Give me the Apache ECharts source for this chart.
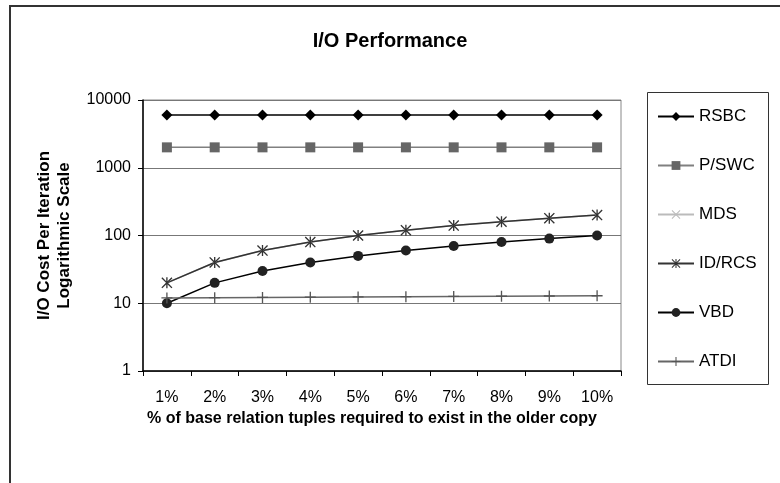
<!DOCTYPE html>
<html><head><meta charset="utf-8">
<script src="https://cdn.jsdelivr.net/npm/echarts@6/dist/echarts.min.js"></script>
<style>html,body{margin:0;padding:0;background:#fff}#c{width:780px;height:483px}</style>
</head><body><div id="c"></div>
<script>
const categories = ['1%','2%','3%','4%','5%','6%','7%','8%','9%','10%'];
const rsbc  = [6000,6000,6000,6000,6000,6000,6000,6000,6000,6000];
const pswc  = [2000,2000,2000,2000,2000,2000,2000,2000,2000,2000];
const mds   = [20,40,60,80,100,120,140,160,180,200];
const idrcs = [20,40,60,80,100,120,140,160,180,200];
const vbd   = [10,20,30,40,50,60,70,80,90,100];
const atdi  = [12,12.1,12.2,12.3,12.4,12.5,12.6,12.7,12.8,12.9];
const yTicks = [1,10,100,1000,10000];

const F = '"Liberation Sans", Arial, sans-serif';
const plusPath = 'path://M4.4,0h1.2v10h-1.2z M0,4.4h10v1.2h-10z';
const xPath = 'path://M0.8,0L5,4.2L9.2,0L10,0.8L5.8,5L10,9.2L9.2,10L5,5.8L0.8,10L0,9.2L4.2,5L0,0.8z';
const starPath = 'path://M0.8,0L5,4.2L9.2,0L10,0.8L5.8,5L10,9.2L9.2,10L5,5.8L0.8,10L0,9.2L4.2,5L0,0.8z M4.4,0h1.2v10h-1.2z';

function mk(name, data, lineColor, symbol, symColor, size) {
  return {
    name, type: 'line', data, symbol, symbolSize: size,
    showAllSymbol: true,
    lineStyle: {color: lineColor, width: 1.5},
    itemStyle: {color: symColor},
    emphasis: {disabled: true},
    animation: false
  };
}

const chart = echarts.init(document.getElementById('c'));
chart.setOption({
  backgroundColor: '#fff',
  animation: false,
  title: {
    text: 'I/O Performance', left: 'center', top: 26,
    textStyle: {fontFamily: F, fontSize: 20, fontWeight: 'bold', color: '#000'}
  },
  grid: {left: 143, right: 159, top: 100, bottom: 112, show: true, borderColor: '#888', borderWidth: 1},
  xAxis: {
    type: 'category', data: categories, boundaryGap: true,
    name: '% of base relation tuples required to exist in the older copy',
    nameLocation: 'middle', nameGap: 39,
    nameTextStyle: {fontFamily: F, fontSize: 16, fontWeight: 'bold', color: '#000', padding: [0, 20, 0, 0]},
    axisLine: {lineStyle: {color: '#000', width: 1.5}},
    axisTick: {show: true, inside: false, length: 5, lineStyle: {color: '#000'}},
    axisLabel: {fontFamily: F, fontSize: 16, color: '#000', margin: 19, interval: 0},
    splitLine: {show: false}
  },
  yAxis: {
    type: 'log', logBase: 10, min: yTicks[0], max: yTicks[yTicks.length-1],
    name: 'I/O Cost Per Iteration\nLogarithmic Scale',
    nameLocation: 'middle', nameGap: 69, nameRotate: 90,
    nameTextStyle: {fontFamily: F, fontSize: 17, fontWeight: 'bold', color: '#000', lineHeight: 20},
    axisLine: {show: true, lineStyle: {color: '#000', width: 1.5}},
    axisTick: {show: true, inside: false, length: 5, lineStyle: {color: '#000'}},
    axisLabel: {fontFamily: F, fontSize: 16, color: '#000', margin: 12, formatter: v => String(v)},
    splitLine: {show: true, lineStyle: {color: '#777', width: 1.2}},
    minorTick: {show: false}, minorSplitLine: {show: false}
  },
  legend: {
    orient: 'vertical', left: 652, top: 103,
    itemWidth: 36, itemHeight: 11, itemGap: 32,
    textStyle: {fontFamily: F, fontSize: 17, color: '#000'},
    data: ['RSBC','P/SWC','MDS','ID/RCS','VBD','ATDI']
  },
  graphic: [
    {type: 'rect', shape: {x: 10, y: 6, width: 800, height: 600}, style: {fill: 'none', stroke: '#333', lineWidth: 2}, z: -1, silent: true},
    {type: 'rect', shape: {x: 647.5, y: 92.5, width: 121, height: 292}, style: {fill: 'none', stroke: '#333', lineWidth: 1}, silent: true}
  ],
  series: [
    mk('RSBC', rsbc, '#000', 'diamond', '#000', 11),
    mk('P/SWC', pswc, '#808080', 'rect', '#666', 10),
    mk('MDS', mds, '#bbb', xPath, '#bbb', 10),
    mk('ID/RCS', idrcs, '#333', starPath, '#333', 11),
    mk('VBD', vbd, '#000', 'circle', '#222', 10),
    mk('ATDI', atdi, '#666', plusPath, '#555', 11)
  ]
});
</script></body></html>
